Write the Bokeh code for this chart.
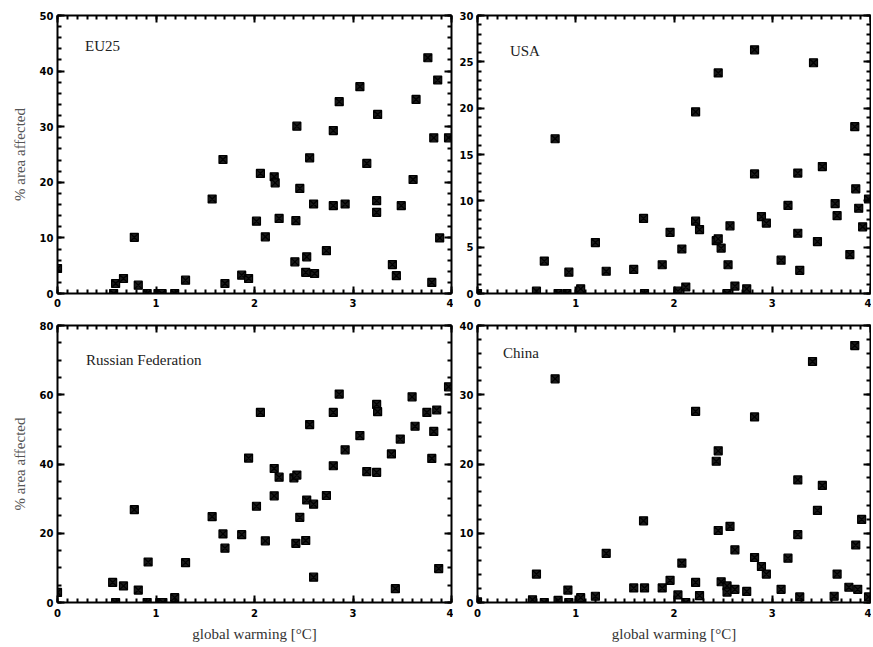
import numpy as np
from bokeh.plotting import figure
from bokeh.layouts import column, row
from bokeh.models import (Range1d, SingleIntervalTicker, LinearAxis, ColumnDataSource,
                          CustomJSTickFormatter)
from bokeh.core.properties import value
from bokeh.embed import file_html
from bokeh.resources import INLINE

# ---------------- data ----------------
eu_x = [0.00, 0.57, 0.59, 0.67, 0.78, 0.82, 0.91, 1.02, 1.06, 1.19, 1.30, 1.57, 1.68, 1.70,
        1.87, 1.94, 2.02, 2.06, 2.11, 2.20, 2.21, 2.25, 2.41, 2.42, 2.43, 2.46, 2.52, 2.53,
        2.56, 2.60, 2.61, 2.73, 2.80, 2.80, 2.86, 2.92, 3.07, 3.14, 3.24, 3.24, 3.25, 3.40,
        3.44, 3.49, 3.61, 3.64, 3.76, 3.80, 3.82, 3.86, 3.88, 3.97]
eu_y = [4.5, 0.0, 1.8, 2.7, 10.1, 1.5, 0.0, 0.0, 0.0, 0.0, 2.4, 17.0, 24.1, 1.8,
        3.3, 2.7, 13.0, 21.6, 10.2, 21.0, 19.9, 13.5, 5.7, 13.1, 30.1, 18.9, 3.8, 6.6,
        24.4, 16.1, 3.6, 7.7, 29.3, 15.8, 34.5, 16.1, 37.2, 23.4, 16.7, 14.6, 32.2, 5.2,
        3.2, 15.8, 20.5, 34.9, 42.4, 2.0, 28.0, 38.4, 10.0, 28.0]

usa_x = [0.00, 0.60, 0.68, 0.79, 0.82, 0.91, 0.93, 1.05, 1.20, 1.31, 1.59, 1.69, 1.70, 1.88,
         1.96, 2.04, 2.08, 2.12, 2.22, 2.22, 2.26, 2.43, 2.45, 2.45, 2.48, 2.54, 2.55, 2.57,
         2.62, 2.74, 2.82, 2.82, 2.89, 2.94, 3.09, 3.16, 3.26, 3.26, 3.28, 3.42, 3.46, 3.51,
         3.64, 3.66, 3.79, 3.84, 3.85, 3.88, 3.92, 3.98]
usa_y = [0.0, 0.25, 3.5, 16.7, 0.0, 0.0, 2.3, 0.5, 5.5, 2.4, 2.6, 8.1, 0.0, 3.1,
         6.6, 0.25, 4.8, 0.7, 19.6, 7.8, 6.9, 5.7, 23.8, 5.9, 4.9, 0.0, 3.1, 7.3,
         0.8, 0.5, 26.3, 12.9, 8.3, 7.6, 3.6, 9.5, 6.5, 13.0, 2.5, 24.9, 5.6, 13.7,
         9.7, 8.4, 4.2, 18.0, 11.3, 9.2, 7.2, 10.2]

ru_x = [0.00, 0.56, 0.59, 0.67, 0.78, 0.82, 0.91, 0.92, 1.04, 1.07, 1.19, 1.30, 1.57, 1.68,
        1.70, 1.87, 1.94, 2.02, 2.06, 2.11, 2.20, 2.20, 2.25, 2.40, 2.43, 2.42, 2.46, 2.52,
        2.53, 2.56, 2.60, 2.60, 2.73, 2.80, 2.80, 2.86, 2.92, 3.07, 3.14, 3.24, 3.24, 3.25,
        3.39, 3.43, 3.48, 3.60, 3.63, 3.75, 3.80, 3.82, 3.85, 3.87, 3.97]
ru_y = [2.9, 5.8, 0.0, 4.8, 26.8, 3.6, 0.0, 11.7, 0.0, 0.0, 1.4, 11.5, 24.8, 19.8,
        15.7, 19.6, 41.7, 27.8, 54.9, 17.8, 38.7, 30.8, 36.2, 36.0, 36.8, 17.1, 24.6, 17.9,
        29.6, 51.4, 28.4, 7.3, 30.9, 39.5, 54.9, 60.2, 44.1, 48.2, 37.8, 37.6, 57.2, 55.1,
        42.9, 4.0, 47.2, 59.4, 50.9, 54.9, 41.6, 49.4, 55.6, 9.8, 62.3]

cn_x = [0.00, 0.56, 0.60, 0.68, 0.79, 0.82, 0.92, 0.93, 1.05, 1.20, 1.31, 1.59, 1.70, 1.69,
        1.88, 1.96, 2.04, 2.08, 2.12, 2.22, 2.22, 2.26, 2.43, 2.45, 2.45, 2.48, 2.54, 2.54,
        2.57, 2.62, 2.62, 2.74, 2.82, 2.82, 2.89, 2.94, 3.09, 3.16, 3.26, 3.26, 3.28, 3.41,
        3.46, 3.51, 3.63, 3.66, 3.78, 3.84, 3.85, 3.87, 3.91, 3.98]
cn_y = [0.1, 0.4, 4.1, 0.0, 32.3, 0.3, 1.8, 0.0, 0.7, 0.9, 7.1, 2.1, 2.1, 11.8,
        2.1, 3.2, 1.1, 5.7, 0.0, 27.6, 2.9, 1.0, 20.4, 21.9, 10.4, 3.0, 2.4, 1.5,
        11.0, 1.9, 7.6, 1.6, 26.8, 6.5, 5.2, 4.1, 1.9, 6.4, 17.7, 9.8, 0.8, 34.8,
        13.3, 16.9, 0.9, 4.1, 2.2, 37.1, 8.3, 1.9, 12.0, 0.8]

x_max = 4
x_label = "global warming [°C]"
y_label = "% area affected"

panels = [
    dict(name="EU25", x=eu_x, y=eu_y, ymax=50, major=10, nminor=5, lx=0.28, ly=44.6),
    dict(name="USA", x=usa_x, y=usa_y, ymax=30, major=5, nminor=5, lx=0.33, ly=26.2),
    dict(name="Russian Federation", x=ru_x, y=ru_y, ymax=80, major=20, nminor=4, lx=0.29, ly=70.1),
    dict(name="China", x=cn_x, y=cn_y, ymax=40, major=10, nminor=5, lx=0.26, ly=36.1),
]

TICK_FONT = "DejaVu Sans"
SERIF = "Liberation Serif"
MAJ_LEN, MIN_LEN = 7, 4   # tick lengths in pixels


def style_axis(ax, standoff=5, labels=True):
    ax.axis_line_width = 2
    ax.axis_line_color = "black"
    ax.major_tick_in = MAJ_LEN
    ax.major_tick_out = 0
    ax.minor_tick_in = MIN_LEN
    ax.minor_tick_out = 0
    ax.major_tick_line_width = 2
    ax.minor_tick_line_width = 2
    ax.major_tick_line_color = "black"
    ax.minor_tick_line_color = "black"
    if labels:
        ax.major_label_text_font = TICK_FONT
        ax.major_label_text_font_style = "bold"
        ax.major_label_text_font_size = "10px"
        ax.major_label_text_color = "black"
        ax.major_label_standoff = standoff
    else:
        ax.formatter = CustomJSTickFormatter(code="return ''")
        ax.major_label_text_font_size = "0px"
        ax.major_label_standoff = 0


def make_panel(i, d):
    left_col = i % 2 == 0
    bottom_row = i >= 2
    fw = 394 if left_col else 393
    fh = 278 if not bottom_row else 277
    p = figure(
        frame_width=fw, frame_height=fh,
        x_range=Range1d(0, x_max), y_range=Range1d(0, d["ymax"]),
        output_backend="svg", toolbar_location=None,
        min_border_left=57 if left_col else 24,
        min_border_right=2 if left_col else 1,
        min_border_top=15 if not bottom_row else 13,
        min_border_bottom=19 if not bottom_row else 40,
    )
    p.grid.visible = False
    p.outline_line_color = None

    xt = lambda: SingleIntervalTicker(interval=1, num_minor_ticks=10)
    yt = lambda: SingleIntervalTicker(interval=d["major"], num_minor_ticks=d["nminor"])
    p.xaxis.ticker = xt()
    p.yaxis.ticker = yt()
    style_axis(p.xaxis[0], standoff=6 if bottom_row else 5)
    style_axis(p.yaxis[0], standoff=4)
    if bottom_row:
        p.xaxis.axis_label = x_label
        p.xaxis.axis_label_text_font = SERIF
        p.xaxis.axis_label_text_font_size = "15px"
        p.xaxis.axis_label_text_font_style = "normal"
        p.xaxis.axis_label_text_color = "#333333"
        p.xaxis.axis_label_standoff = 6
    if left_col:
        p.yaxis.axis_label = y_label
        p.yaxis.axis_label_text_font = SERIF
        p.yaxis.axis_label_text_font_size = "15px"
        p.yaxis.axis_label_text_font_style = "normal"
        p.yaxis.axis_label_text_color = "#555555"
        p.yaxis.axis_label_standoff = 9

    # mirrored box axes (top and right) carrying inward ticks, no labels
    top = LinearAxis(ticker=xt())
    style_axis(top, labels=False)
    p.add_layout(top, "above")
    right = LinearAxis(ticker=yt())
    style_axis(right, labels=False)
    p.add_layout(right, "right")

    src = ColumnDataSource(dict(x=d["x"], y=d["y"]))
    p.scatter("x", "y", source=src, marker="square_x", size=8,
              fill_color="#1a1a1a", line_color="black", line_width=1.2)

    p.text(x=[d["lx"]], y=[d["ly"]], text=[d["name"]],
           text_font=value(SERIF), text_font_size="15px",
           text_color="#222222", text_baseline="middle", text_align="left")
    return p


figs = [make_panel(i, d) for i, d in enumerate(panels)]
layout = column(row(figs[0], figs[1]), row(figs[2], figs[3]))

open("out.html", "w").write(file_html(layout, INLINE))
